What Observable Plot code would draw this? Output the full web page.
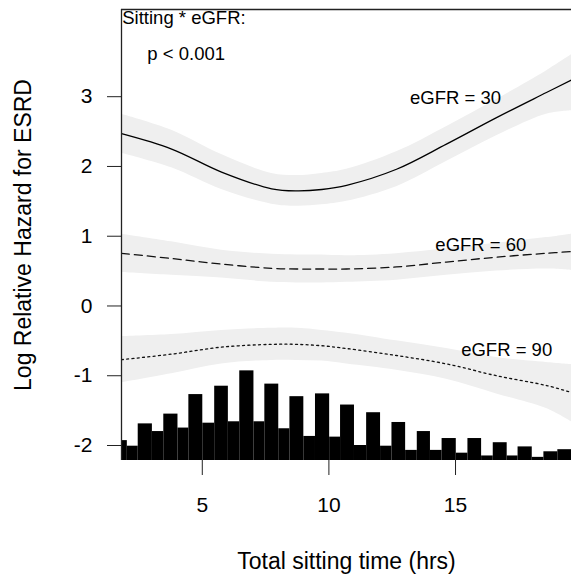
<!DOCTYPE html>
<html>
<head>
<meta charset="utf-8">
<script src="https://cdn.jsdelivr.net/npm/d3@7"></script>
<script src="https://cdn.jsdelivr.net/npm/@observablehq/plot@0.6"></script>
<style>
  html, body { margin: 0; padding: 0; background: white; }
  #chart svg { display: block; }
</style>
</head>
<body>
<div id="chart"></div>
<script>
// Sampled sitting times (hrs)
const sitX = [1.81, 3.79, 5.76, 7.74, 8.73, 9.72, 10.7, 12.67, 14.64, 16.62, 18.59, 19.58];

// eGFR = 30 (solid)
const fit30 = [2.47, 2.25, 1.92, 1.68, 1.65, 1.67, 1.73, 1.96, 2.32, 2.70, 3.06, 3.24];
const lo30  = [2.19, 1.98, 1.67, 1.46, 1.43, 1.45, 1.50, 1.71, 2.07, 2.44, 2.75, 2.80];
const hi30  = [2.75, 2.52, 2.17, 1.90, 1.87, 1.90, 1.96, 2.21, 2.57, 2.96, 3.37, 3.60];

// eGFR = 60 (dashed)
const fit60 = [0.755, 0.68, 0.60, 0.54, 0.53, 0.53, 0.53, 0.56, 0.63, 0.70, 0.755, 0.78];
const lo60  = [0.48, 0.44, 0.40, 0.34, 0.33, 0.33, 0.34, 0.37, 0.44, 0.50, 0.53, 0.51];
const hi60  = [1.03, 0.92, 0.80, 0.74, 0.73, 0.73, 0.72, 0.75, 0.82, 0.90, 0.98, 1.03];

// eGFR = 90 (dotted)
const fit90 = [-0.77, -0.69, -0.59, -0.55, -0.55, -0.57, -0.61, -0.71, -0.83, -1.00, -1.14, -1.24];
const lo90  = [-1.10, -0.97, -0.83, -0.78, -0.78, -0.79, -0.83, -0.92, -1.05, -1.26, -1.47, -1.66];
const hi90  = [-0.44, -0.41, -0.35, -0.32, -0.32, -0.35, -0.39, -0.50, -0.61, -0.74, -0.81, -0.84];

// Histogram of sitting time (bar edges in hrs, bar tops in plot units)
const histEdges = [1.81, 2.04, 2.47, 3.03, 3.48, 4.04, 4.47, 5.02, 5.49, 6.03, 6.48, 7.04, 7.47, 8.02, 8.46,
  9.01, 9.47, 10.03, 10.46, 11.01, 11.49, 12.04, 12.49, 13.03, 13.49, 14.01, 14.47, 15.03, 15.49,
  16.03, 16.49, 17.04, 17.47, 18.03, 18.49, 19.04, 19.58];
const histTops = [-1.93, -2.01, -1.69, -1.80, -1.55, -1.75, -1.27, -1.68, -1.15, -1.66, -0.93, -1.66,
  -1.12, -1.76, -1.30, -1.87, -1.26, -1.88, -1.42, -2.00, -1.53, -2.01, -1.67, -2.07, -1.80, -2.07,
  -1.90, -2.11, -1.90, -2.15, -1.96, -2.15, -2.02, -2.17, -2.09, -2.06];

const xTicks = [5, 10, 15];
const yTicks = [-2, -1, 0, 1, 2, 3];
const curveLabels = ["eGFR = 30", "eGFR = 60", "eGFR = 90"];
const labelX = [15.0, 16.0, 17.02];
const labelY = [2.895, 0.794, -0.711];
const interactionText = ["Sitting * eGFR:", "p < 0.001"];
const interactionX = [1.84, 2.83];
const interactionY = [4.046, 3.526];

const xDomain = [1.81, 19.58];
const yDomain = [-2.215, 4.25];

const mk = (fit, lo, hi) => sitX.map((x, i) => ({x, fit: fit[i], lo: lo[i], hi: hi[i]}));
const s30 = mk(fit30, lo30, hi30);
const s60 = mk(fit60, lo60, hi60);
const s90 = mk(fit90, lo90, hi90);
const bars = histTops.map((t, i) => ({x1: histEdges[i], x2: histEdges[i + 1], top: t}));
const labels = curveLabels.map((t, i) => ({t, x: labelX[i], y: labelY[i]}));
const inter = interactionText.map((t, i) => ({t, x: interactionX[i], y: interactionY[i]}));

const band = "#efefef";
const curve = "catmull-rom";
const plain = d => String(d);

const chart = Plot.plot({
  width: 571,
  height: 577,
  marginLeft: 121,
  marginTop: 9,
  marginRight: 0,
  marginBottom: 117,
  style: {fontFamily: "'Liberation Sans', Arial, Helvetica, sans-serif", color: "black", background: "white"},
  x: {domain: xDomain},
  y: {domain: yDomain},
  marks: [
    Plot.areaY(s30, {x: "x", y1: "lo", y2: "hi", fill: band, curve, clip: true}),
    Plot.areaY(s60, {x: "x", y1: "lo", y2: "hi", fill: band, curve, clip: true}),
    Plot.areaY(s90, {x: "x", y1: "lo", y2: "hi", fill: band, curve, clip: true}),
    Plot.line(s30, {x: "x", y: "fit", stroke: "black", strokeWidth: 1.3, curve, clip: true}),
    Plot.line(s60, {x: "x", y: "fit", stroke: "#111", strokeWidth: 1.3, strokeDasharray: "8,5", curve, clip: true}),
    Plot.line(s90, {x: "x", y: "fit", stroke: "#111", strokeWidth: 1.3, strokeDasharray: "2,3.3", curve, clip: true}),
    Plot.rectY(bars, {x1: "x1", x2: "x2", y1: yDomain[0], y2: "top", fill: "black", clip: true}),
    Plot.text(labels, {x: "x", y: "y", text: "t", fontSize: 18.5, textAnchor: "middle", lineAnchor: "bottom", fill: "black"}),
    Plot.text(inter, {x: "x", y: "y", text: "t", fontSize: 18.5, textAnchor: "start", lineAnchor: "bottom", fill: "black"}),
    Plot.axisX({ticks: xTicks, tickFormat: plain, tickSize: 15, tickPadding: 22, fontSize: 21, label: null, stroke: "#222"}),
    Plot.axisY({ticks: yTicks, tickFormat: plain, tickSize: 14, tickPadding: 15, fontSize: 21, label: null, stroke: "#222"}),
    Plot.ruleX([xDomain[0]], {stroke: "#222", strokeWidth: 1.3}),
    Plot.ruleY([yDomain[1]], {stroke: "#222", strokeWidth: 1.3}),
    Plot.text(["Total sitting time (hrs)"], {frameAnchor: "bottom", dy: 101, fontSize: 23, textAnchor: "middle", lineAnchor: "middle", fill: "black"}),
    Plot.text(["Log Relative Hazard for ESRD"], {frameAnchor: "left", dx: -98, rotate: -90, fontSize: 23, textAnchor: "middle", lineAnchor: "middle", fill: "black"})
  ]
});
document.getElementById("chart").appendChild(chart);
</script>
</body>
</html>
